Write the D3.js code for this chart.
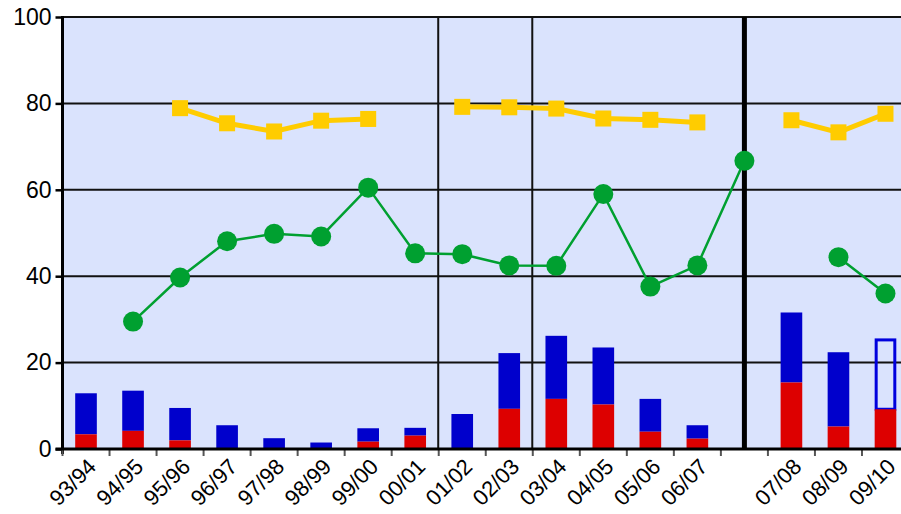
<!DOCTYPE html>
<html>
<head>
<meta charset="utf-8">
<script src="https://cdn.jsdelivr.net/npm/d3@7"></script>
<style>
  body { margin: 0; background: #fff; }
  text { font-family: "Liberation Sans", Arial, sans-serif; }
</style>
</head>
<body>
<div id="chart"></div>
<script>
var seasons = ["93/94", "94/95", "95/96", "96/97", "97/98", "98/99", "99/00", "00/01", "01/02", "02/03", "03/04", "04/05", "05/06", "06/07", "", "07/08", "08/09", "09/10"];
var barTotal = [12.9, 13.5, 9.5, 5.5, 2.5, 1.5, 4.8, 4.9, 8.1, 22.2, 26.2, 23.5, 11.6, 5.5, null, 31.6, 22.4, 25.6];
var barRed = [3.4, 4.2, 2.0, 0, 0, 0, 1.7, 3.1, 0, 9.3, 11.6, 10.3, 4.0, 2.4, null, 15.4, 5.2, 9.2];
var yellowSeries = [null, null, 78.9, 75.4, 73.5, 76.0, 76.4, null, 79.2, 79.1, 78.8, 76.5, 76.2, 75.6, null, 76.1, 73.3, 77.6];
var greenSeries = [null, 29.5, 39.7, 48.1, 49.8, 49.2, 60.5, 45.3, 45.1, 42.5, 42.4, 59.0, 37.6, 42.5, 66.7, null, 44.4, 36.0];
var outlinedSeasons = ["09/10"];
var yTicks = [0, 20, 40, 60, 80, 100];
// thin separators sit on the boundary before these seasons, the thick one in the middle of the gap
var splitBefore = ["01/02", "03/04"];
var thickSplit = "";

var width = 901, height = 514;
var plot = { left: 62.5, right: 909, top: 17, bottom: 449 };

var svg = d3.select("#chart").append("svg")
  .attr("width", width)
  .attr("height", height);

var x = d3.scaleBand()
  .domain(seasons)
  .range([plot.left, plot.right])
  .padding(0);
var y = d3.scaleLinear()
  .domain([0, 100])
  .range([plot.bottom, plot.top]);

var step = x.bandwidth();
var barW = step * 0.46;
function cx(d) { return x(d) + step / 2; }

svg.append("rect")
  .attr("x", plot.left)
  .attr("y", plot.top)
  .attr("width", plot.right - plot.left)
  .attr("height", plot.bottom - plot.top)
  .attr("fill", "#dae3fd");

// horizontal grid
svg.append("g")
  .selectAll("line")
  .data(yTicks.filter(function (t) { return t > 0; }))
  .enter().append("line")
  .attr("x1", plot.left)
  .attr("x2", plot.right)
  .attr("y1", function (d) { return y(d); })
  .attr("y2", function (d) { return y(d); })
  .attr("stroke", "#111")
  .attr("stroke-width", 2);

var rows = seasons.map(function (s, i) {
  return { season: s, total: barTotal[i], red: barRed[i], yellow: yellowSeries[i], green: greenSeries[i] };
});

// blue part of the bars
svg.append("g")
  .selectAll("rect")
  .data(rows.filter(function (d) { return d.total != null && outlinedSeasons.indexOf(d.season) < 0; }))
  .enter().append("rect")
  .attr("x", function (d) { return cx(d.season) - barW / 2; })
  .attr("width", barW)
  .attr("y", function (d) { return y(d.total); })
  .attr("height", function (d) { return y(d.red) - y(d.total); })
  .attr("fill", "#0000cc");

// outlined (open) bars
svg.append("g")
  .selectAll("rect")
  .data(rows.filter(function (d) { return outlinedSeasons.indexOf(d.season) >= 0; }))
  .enter().append("rect")
  .attr("x", function (d) { return cx(d.season) - barW / 2 + 1.5; })
  .attr("width", barW - 3)
  .attr("y", function (d) { return y(d.total) + 1.5; })
  .attr("height", function (d) { return y(d.red) - y(d.total) - 1.5; })
  .attr("fill", "none")
  .attr("stroke", "#0000dd")
  .attr("stroke-width", 3);

// red part of the bars
svg.append("g")
  .selectAll("rect")
  .data(rows.filter(function (d) { return d.red > 0; }))
  .enter().append("rect")
  .attr("x", function (d) { return cx(d.season) - barW / 2; })
  .attr("width", barW)
  .attr("y", function (d) { return y(d.red); })
  .attr("height", function (d) { return y(0) - y(d.red); })
  .attr("fill", "#dd0000");

// vertical separators
svg.append("g")
  .selectAll("line")
  .data(splitBefore)
  .enter().append("line")
  .attr("x1", function (d) { return x(d) - 0.5; })
  .attr("x2", function (d) { return x(d) - 0.5; })
  .attr("y1", plot.top)
  .attr("y2", plot.bottom)
  .attr("stroke", "#111")
  .attr("stroke-width", 2);
svg.append("line")
  .attr("x1", cx(thickSplit))
  .attr("x2", cx(thickSplit))
  .attr("y1", plot.top)
  .attr("y2", plot.bottom)
  .attr("stroke", "#000")
  .attr("stroke-width", 5);

// yellow line with squares
var yellowLine = d3.line()
  .defined(function (d) { return d.yellow != null; })
  .x(function (d) { return cx(d.season); })
  .y(function (d) { return y(d.yellow); });
svg.append("path")
  .datum(rows)
  .attr("d", yellowLine)
  .attr("fill", "none")
  .attr("stroke", "#ffcc00")
  .attr("stroke-width", 5);
svg.append("g")
  .selectAll("rect")
  .data(rows.filter(function (d) { return d.yellow != null; }))
  .enter().append("rect")
  .attr("x", function (d) { return cx(d.season) - 8; })
  .attr("y", function (d) { return y(d.yellow) - 8; })
  .attr("width", 16)
  .attr("height", 16)
  .attr("fill", "#ffcc00");

// green line with circles
var greenLine = d3.line()
  .defined(function (d) { return d.green != null; })
  .x(function (d) { return cx(d.season); })
  .y(function (d) { return y(d.green); });
svg.append("path")
  .datum(rows)
  .attr("d", greenLine)
  .attr("fill", "none")
  .attr("stroke", "#00a030")
  .attr("stroke-width", 2.5);
svg.append("g")
  .selectAll("circle")
  .data(rows.filter(function (d) { return d.green != null; }))
  .enter().append("circle")
  .attr("cx", function (d) { return cx(d.season); })
  .attr("cy", function (d) { return y(d.green); })
  .attr("r", 10)
  .attr("fill", "#00a030");

// y axis
var yAxis = svg.append("g")
  .attr("transform", "translate(" + plot.left + ",0)")
  .call(d3.axisLeft(y).tickValues(yTicks).tickSize(7).tickPadding(4));
yAxis.select(".domain").remove();
yAxis.selectAll(".tick line").attr("stroke", "#000").attr("stroke-width", 2.5);
yAxis.selectAll("text")
  .attr("fill", "#000")
  .style("font-size", "23px");
svg.append("line")
  .attr("x1", plot.left)
  .attr("x2", plot.left)
  .attr("y1", plot.top - 1)
  .attr("y2", plot.bottom + 5)
  .attr("stroke", "#000")
  .attr("stroke-width", 3);

// x axis: ticks on band edges, labels under the band centres
svg.append("g")
  .selectAll("line")
  .data(seasons)
  .enter().append("line")
  .attr("x1", function (d) { return x(d); })
  .attr("x2", function (d) { return x(d); })
  .attr("y1", plot.bottom)
  .attr("y2", plot.bottom + 7)
  .attr("stroke", "#555")
  .attr("stroke-width", 2);
svg.append("line")
  .attr("x1", plot.left - 7)
  .attr("x2", plot.right)
  .attr("y1", plot.bottom)
  .attr("y2", plot.bottom)
  .attr("stroke", "#000")
  .attr("stroke-width", 3);

svg.append("g")
  .selectAll("text")
  .data(seasons.filter(function (s) { return s !== ""; }))
  .enter().append("text")
  .attr("transform", function (d) {
    return "translate(" + (cx(d) + 11.5) + "," + (plot.bottom + 19) + ") rotate(-45)";
  })
  .style("text-anchor", "end")
  .style("font-size", "22px")
  .attr("fill", "#000")
  .text(function (d) { return d; });
</script>
</body>
</html>
